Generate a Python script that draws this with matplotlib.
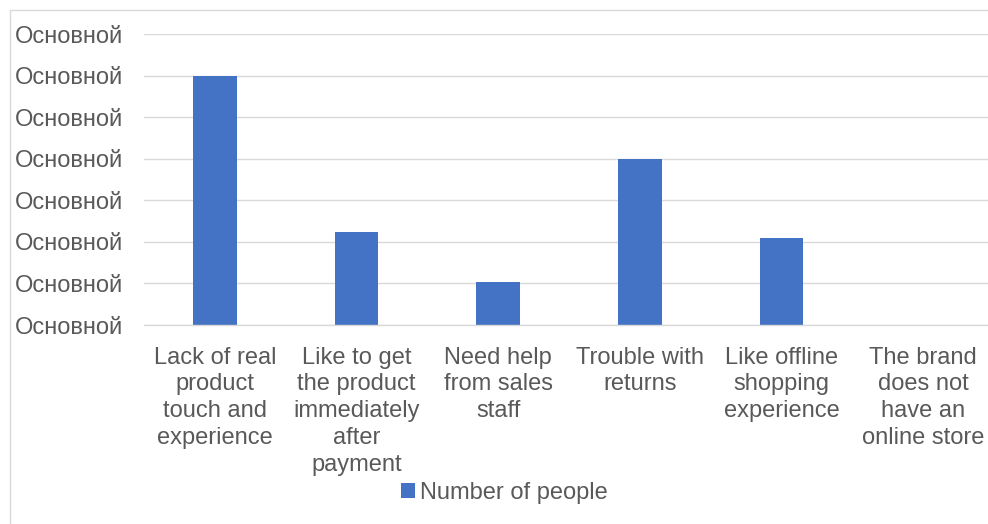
import matplotlib
matplotlib.use('Agg')
import matplotlib.pyplot as plt
from matplotlib.patches import Rectangle

# ---------------------------------------------------------------------------
# Data
# ---------------------------------------------------------------------------
categories = [
    'Lack of real\nproduct\ntouch and\nexperience',
    'Like to get\nthe product\nimmediately\nafter\npayment',
    'Need help\nfrom sales\nstaff',
    'Trouble with\nreturns',
    'Like offline\nshopping\nexperience',
    'The brand\ndoes not\nhave an\nonline store',
]
people = [6.0, 2.24, 1.04, 4.0, 2.09, 0.0]
y_ticks = [0, 1, 2, 3, 4, 5, 6, 7]
y_tick_labels = ['Основной'] * len(y_ticks)
series_name = 'Number of people'

BLUE = '#4472c4'
GRID = '#d9d9d9'
TEXT = '#595959'
W, H = 988, 524
FS = 17

plt.rcParams['font.family'] = ['Liberation Sans', 'DejaVu Sans']

fig = plt.figure(figsize=(W / 100, H / 100), dpi=100)

# chart-area border (runs off the right and bottom edges)
fig.patches.append(Rectangle((9.5 / W, -0.1), 1.2, 1.1 - 10 / H,
                             transform=fig.transFigure, fill=False,
                             edgecolor=GRID, linewidth=1.0))

left, right = 144 / W, 994 / W
top, bottom = 1 - 34.3 / H, 1 - 325 / H
ax = fig.add_axes([left, bottom, right - left, top - bottom])

x = range(len(categories))
bars = ax.bar(x, people, width=0.31, color=BLUE, label=series_name, zorder=3)

ax.set_xlim(-0.5, len(categories) - 0.5)
ax.set_ylim(0, 7)
ax.set_yticks(y_ticks)
ax.set_yticklabels(y_tick_labels)
ax.set_xticks(list(x))
ax.set_xticklabels(categories, linespacing=1.29)

ax.yaxis.grid(True, color=GRID, linewidth=1.0, zorder=0)
for s in ['top', 'right', 'left']:
    ax.spines[s].set_visible(False)
ax.spines['bottom'].set_color(GRID)
ax.spines['bottom'].set_linewidth(1.0)
ax.spines['bottom'].set_zorder(4)

ax.tick_params(axis='y', length=0, pad=15, labelsize=FS, labelcolor=TEXT)
ax.tick_params(axis='x', length=0, pad=15.5, labelsize=FS, labelcolor=TEXT)

fig.legend(handles=[bars], labels=[series_name], loc='center',
           bbox_to_anchor=(504 / W, 1 - 493 / H), frameon=False,
           fontsize=FS, labelcolor=TEXT, handlelength=0.6,
           handleheight=0.6, handletextpad=0.2)

fig.savefig('out.png', dpi=100, facecolor='white')
